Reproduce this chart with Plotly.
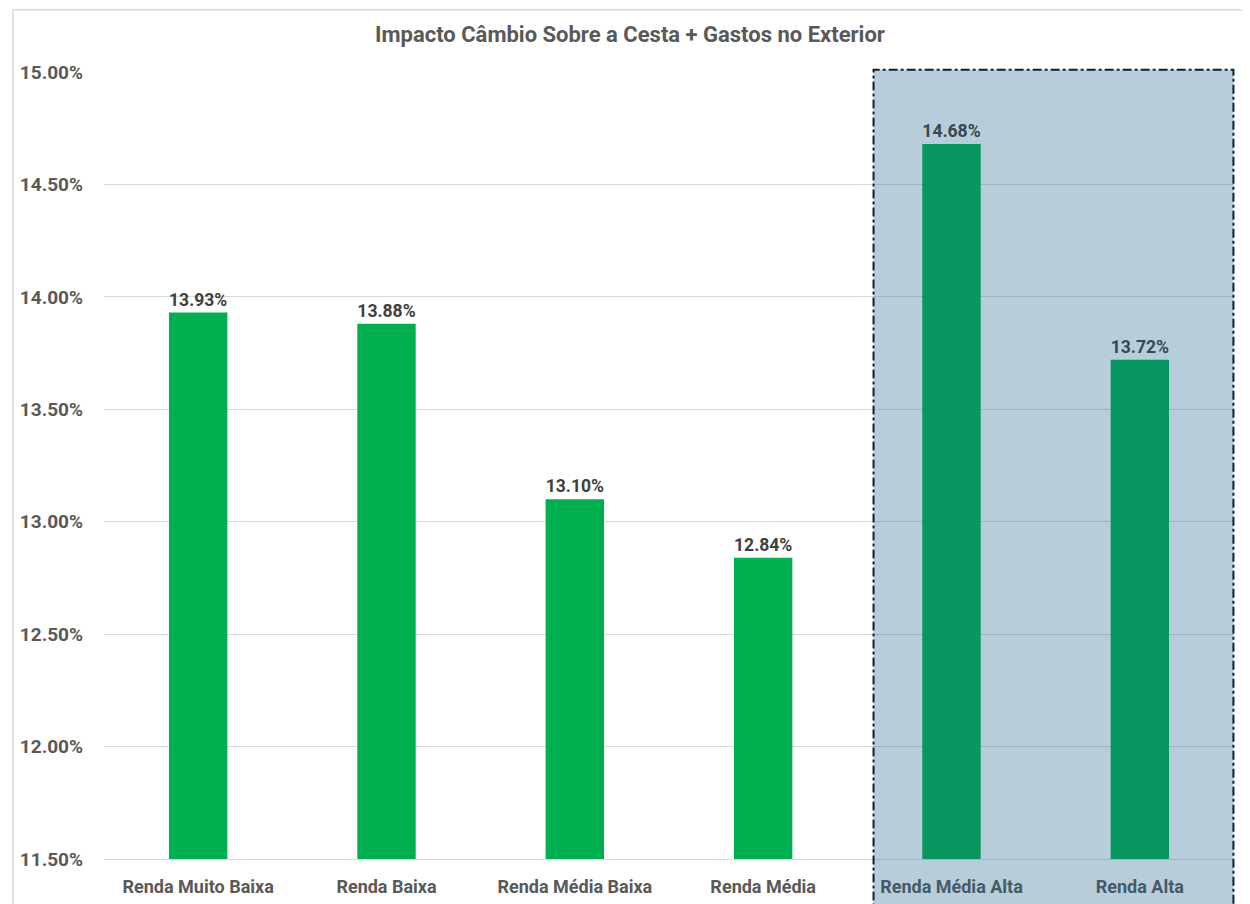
import plotly.graph_objects as go

# %% data
categorias = ["Renda Muito Baixa", "Renda Baixa", "Renda Média Baixa",
              "Renda Média", "Renda Média Alta", "Renda Alta"]
impacto = [0.1393, 0.1388, 0.1310, 0.1284, 0.1468, 0.1372]
titulo = "Impacto Câmbio Sobre a Cesta + Gastos no Exterior"

fonte = "Roboto"

# %% chart
fig = go.Figure()
fig.add_trace(go.Bar(
    x=categorias, y=impacto,
    marker=dict(color="#00B050", line=dict(width=0)),
    width=0.31,
    texttemplate="%{y:.2%}", textposition="outside",
    textfont=dict(family=fonte, size=18, color="#404040", weight="bold"),
    cliponaxis=False,
))

# destaque nas rendas altas (retangulo semi-transparente tracejado)
fig.add_shape(type="rect", xref="paper", yref="paper",
              x0=0.681, x1=0.9995, y0=-0.08, y1=1.003,
              fillcolor="rgba(23,92,132,0.31)",
              line=dict(color="#0D2230", width=2, dash="dashdot"),
              layer="above")
# borda da area do grafico
fig.add_shape(type="rect", xref="paper", yref="paper",
              x0=-0.0805, x1=1.1, y0=-0.2, y1=1.079,
              line=dict(color="#D9D9D9", width=1.5), layer="below")

fig.update_layout(
    width=1250, height=904,
    margin=dict(l=92, r=24, t=64, b=53),
    paper_bgcolor="white", plot_bgcolor="white",
    title=dict(text=titulo, x=0.4976, xanchor="center", y=0.971, yanchor="middle",
               font=dict(family=fonte, size=22, color="#595959", weight="bold")),
    showlegend=False,
    bargap=0.69,
)
fig.update_yaxes(range=[0.115, 0.15], dtick=0.005, tickformat=".2%",
                 showgrid=True, gridcolor="#D9D9D9", gridwidth=1,
                 zeroline=False, showline=False, ticks="", ticklabelstandoff=20,
                 tickfont=dict(family=fonte, size=19, color="#595959", weight="bold"))
fig.update_xaxes(showgrid=False, showline=True, linecolor="#D9D9D9", linewidth=1,
                 ticks="", ticklabelstandoff=11,
                 tickfont=dict(family=fonte, size=18, color="#595959", weight="bold"))

fig.write_html("out.html")
